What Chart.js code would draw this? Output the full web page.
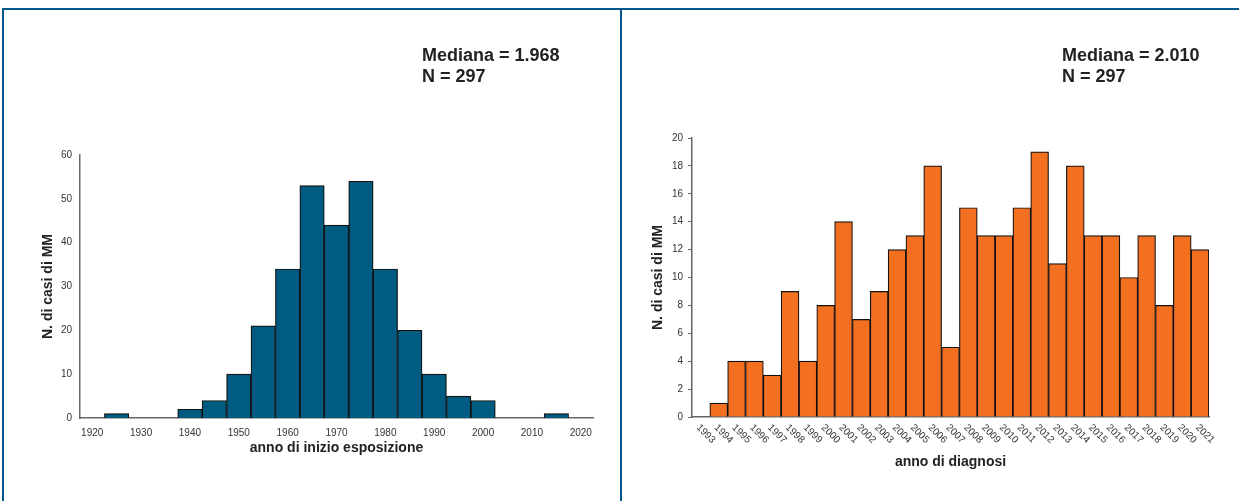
<!DOCTYPE html>
<html><head><meta charset="utf-8">
<script src="https://cdn.jsdelivr.net/npm/chart.js@4/dist/chart.umd.min.js"></script>
<style>
html,body{margin:0;padding:0;background:#fff;width:1239px;height:501px;overflow:hidden;font-family:"Liberation Sans",Arial,sans-serif;}
.frame{position:absolute;background:#00578a;}
#c1wrap{position:absolute;left:0;top:0;width:620px;height:501px;}
#c2wrap{position:absolute;left:620px;top:0;width:619px;height:501px;}
.note{position:absolute;font-weight:bold;font-size:18px;line-height:21px;color:#222;white-space:nowrap;}
</style></head>
<body>
<div id="c1wrap"><canvas id="c1" width="620" height="501"></canvas></div>
<div id="c2wrap"><canvas id="c2" width="619" height="501"></canvas></div>
<div class="frame" style="left:2px;top:8px;width:2px;height:493px"></div>
<div class="frame" style="left:2px;top:8px;width:1237px;height:2px"></div>
<div class="frame" style="left:620px;top:8px;width:2px;height:493px"></div>
<div class="note" id="n1" style="left:422px;top:45px"></div>
<div class="note" id="n2" style="left:1062px;top:45px"></div>
<script>
// ---- data ----
const expBinCenters = [1920,1925,1930,1935,1940,1945,1950,1955,1960,1965,1970,1975,1980,1985,1990,1995,2000,2005,2010,2015,2020];
const expCounts     = [0,1,0,0,2,4,10,21,34,53,44,54,34,20,10,5,4,0,0,1,0];
const expXTicks     = [1920,1930,1940,1950,1960,1970,1980,1990,2000,2010,2020];
const expYTicks     = [0,10,20,30,40,50,60];

const diagYears  = ['1993','1994','1995','1996','1997','1998','1999','2000','2001','2002','2003','2004','2005','2006','2007','2008','2009','2010','2011','2012','2013','2014','2015','2016','2017','2018','2019','2020','2021'];
const diagCounts = [0,1,4,4,3,9,4,8,14,7,9,12,13,18,5,15,13,13,15,19,11,18,13,13,10,13,8,13,12];
const diagYTicks = [0,2,4,6,8,10,12,14,16,18,20];

const notes1 = ['Mediana = 1.968','N = 297'];
const notes2 = ['Mediana = 2.010','N = 297'];
const yTitle = 'N. di casi di MM';
const xTitle1 = 'anno di inizio esposizione';
const xTitle2 = 'anno di diagnosi';

document.getElementById('n1').innerHTML = notes1.join('<br>');
document.getElementById('n2').innerHTML = notes2.join('<br>');

const FONT = '"Liberation Sans", Arial, sans-serif';
const tickFont = {family: FONT, size: 10};
const titleFont = {family: FONT, size: 14, weight: 'bold'};
const axisColor = '#666';

// ---- chart 1 ----
new Chart(document.getElementById('c1'), {
  type: 'bar',
  data: {
    datasets: [{
      data: expBinCenters.map((x,i)=>({x:x, y:expCounts[i]})),
      backgroundColor: '#005b81',
      borderColor: '#111',
      borderWidth: 1.2,
      barPercentage: 1,
      categoryPercentage: 1
    }]
  },
  options: {
    responsive: false,
    animation: false,
    layout: {padding: {left: 0, right: 27, top: 155, bottom: 44}},
    plugins: {legend: {display: false}, tooltip: {enabled: false}},
    scales: {
      x: {
        type: 'linear', min: 1917.5, max: 2022.5, offset: false,
        afterBuildTicks: s => { s.ticks = expXTicks.map(v => ({value: v})); },
        afterFit: s => { s.height = 39; },
        grid: {display: false, drawTicks: false},
        border: {display: true, color: axisColor, width: 1.5},
        ticks: {font: tickFont, color: '#333', padding: 9, maxRotation: 0, autoSkip: false, callback: v => String(v)},
        title: {display: true, text: xTitle1, font: titleFont, color: '#222', padding: {top: 0, bottom: 0}}
      },
      y: {
        min: 0, max: 60,
        afterBuildTicks: s => { s.ticks = expYTicks.map(v => ({value: v})); },
        afterFit: s => { s.width = 80; },
        grid: {display: false, drawTicks: false},
        border: {display: true, color: axisColor, width: 1.5},
        ticks: {font: tickFont, color: '#333', padding: 8},
        title: {display: true, text: yTitle, font: titleFont, color: '#222', padding: {top: 39.6, bottom: 0}}
      }
    }
  }
});

// ---- chart 2 ----
const rotLabels = {
  id: 'rotLabels',
  afterDraw(chart) {
    const s = chart.scales.x;
    const ctx = chart.ctx;
    ctx.save();
    ctx.font = '10px ' + FONT;
    ctx.fillStyle = '#333';
    ctx.textAlign = 'left';
    ctx.textBaseline = 'middle';
    s.ticks.forEach((t, i) => {
      const x = s.getPixelForTick(i);
      ctx.save();
      ctx.translate(x - 3, s.top + 9);
      ctx.rotate(Math.PI / 4);
      ctx.fillText(diagYears[i], 0, 0);
      ctx.restore();
    });
    ctx.restore();
  }
};

new Chart(document.getElementById('c2'), {
  type: 'bar',
  data: {
    labels: diagYears,
    datasets: [{
      data: diagCounts,
      backgroundColor: '#f37021',
      borderColor: '#111',
      borderWidth: 1.2,
      barPercentage: 1,
      categoryPercentage: 1
    }]
  },
  options: {
    responsive: false,
    animation: false,
    layout: {padding: {left: 0, right: 30, top: 138, bottom: 30}},
    plugins: {legend: {display: false}, tooltip: {enabled: false}},
    scales: {
      x: {
        type: 'category', offset: true,
        afterFit: s => { s.height = 54; },
        grid: {display: false, drawTicks: false},
        border: {display: true, color: axisColor, width: 1.5},
        ticks: {display: false, autoSkip: false},
        title: {display: true, text: xTitle2, font: titleFont, color: '#222', padding: {top: 0, bottom: 0}}
      },
      y: {
        min: 0, max: 20,
        afterBuildTicks: s => { s.ticks = diagYTicks.map(v => ({value: v})); },
        afterFit: s => { s.width = 72; },
        grid: {display: true, drawOnChartArea: false, drawTicks: true, tickLength: 4, color: axisColor, lineWidth: 1},
        border: {display: true, color: axisColor, width: 1.5},
        ticks: {font: tickFont, color: '#333', padding: 5},
        title: {display: true, text: yTitle, font: titleFont, color: '#222', padding: {top: 29.6, bottom: 0}}
      }
    }
  },
  plugins: [rotLabels]
});
</script>
</body></html>
